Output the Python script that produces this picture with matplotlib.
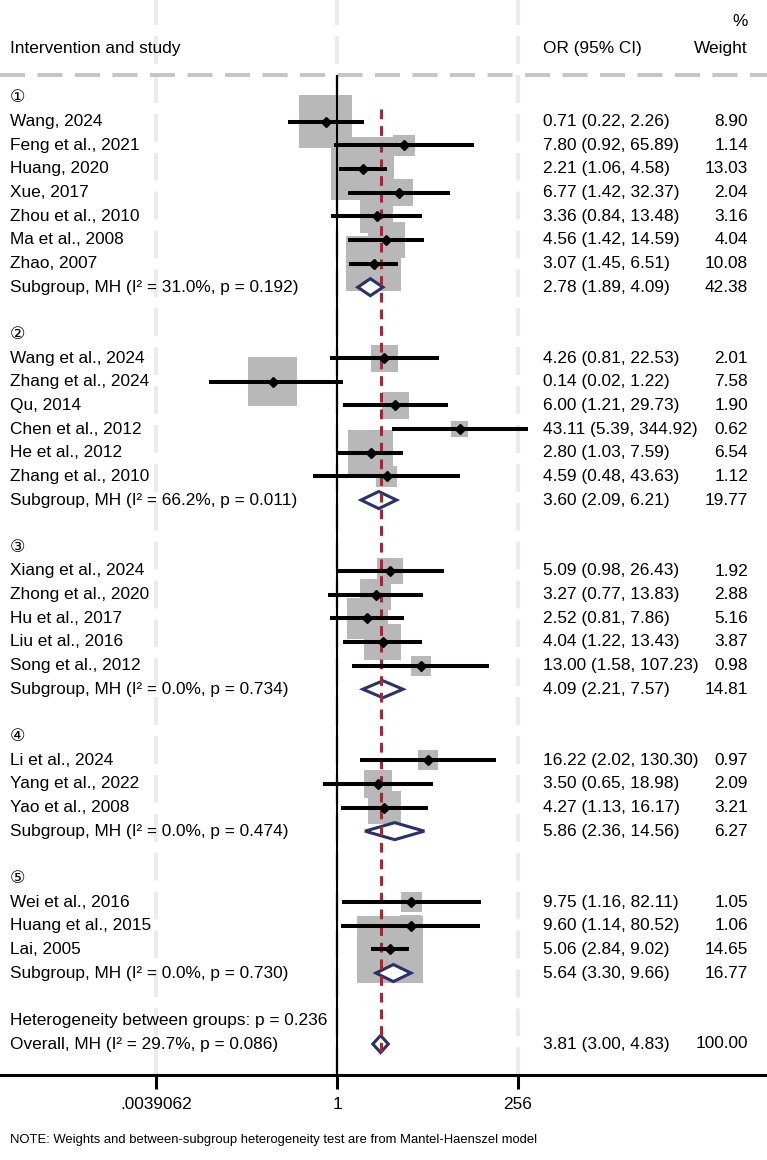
import numpy as np
import matplotlib.pyplot as plt
from matplotlib.patches import Polygon

plt.rcParams['font.family'] = ['Liberation Sans', 'DejaVu Sans']
plt.rcParams['lines.scale_dashes'] = False

# ---- data ----
group_names = ['①', '②', '③', '④', '⑤']

studies = ['Wang, 2024', 'Feng et al., 2021', 'Huang, 2020', 'Xue, 2017',
           'Zhou et al., 2010', 'Ma et al., 2008', 'Zhao, 2007',
           'Wang et al., 2024', 'Zhang et al., 2024', 'Qu, 2014',
           'Chen et al., 2012', 'He et al., 2012', 'Zhang et al., 2010',
           'Xiang et al., 2024', 'Zhong et al., 2020', 'Hu et al., 2017',
           'Liu et al., 2016', 'Song et al., 2012',
           'Li et al., 2024', 'Yang et al., 2022', 'Yao et al., 2008',
           'Wei et al., 2016', 'Huang et al., 2015', 'Lai, 2005']
study_group = [0] * 7 + [1] * 6 + [2] * 5 + [3] * 3 + [4] * 3
study_or = [0.71, 7.80, 2.21, 6.77, 3.36, 4.56, 3.07,
            4.26, 0.14, 6.00, 43.11, 2.80, 4.59,
            5.09, 3.27, 2.52, 4.04, 13.00,
            16.22, 3.50, 4.27,
            9.75, 9.60, 5.06]
study_lo = [0.22, 0.92, 1.06, 1.42, 0.84, 1.42, 1.45,
            0.81, 0.02, 1.21, 5.39, 1.03, 0.48,
            0.98, 0.77, 0.81, 1.22, 1.58,
            2.02, 0.65, 1.13,
            1.16, 1.14, 2.84]
study_hi = [2.26, 65.89, 4.58, 32.37, 13.48, 14.59, 6.51,
            22.53, 1.22, 29.73, 344.92, 7.59, 43.63,
            26.43, 13.83, 7.86, 13.43, 107.23,
            130.30, 18.98, 16.17,
            82.11, 80.52, 9.02]
study_wt = [8.90, 1.14, 13.03, 2.04, 3.16, 4.04, 10.08,
            2.01, 7.58, 1.90, 0.62, 6.54, 1.12,
            1.92, 2.88, 5.16, 3.87, 0.98,
            0.97, 2.09, 3.21,
            1.05, 1.06, 14.65]

sub_i2 = ['31.0%', '66.2%', '0.0%', '0.0%', '0.0%']
sub_p = ['0.192', '0.011', '0.734', '0.474', '0.730']
sub_or = [2.78, 3.60, 4.09, 5.86, 5.64]
sub_lo = [1.89, 2.09, 2.21, 2.36, 3.30]
sub_hi = [4.09, 6.21, 7.57, 14.56, 9.66]
sub_wt = [42.38, 19.77, 14.81, 6.27, 16.77]

het_p = '0.236'
overall_i2 = '29.7%'
overall_p = '0.086'
overall_or = 3.81
overall_lo = 3.00
overall_hi = 4.83
overall_wt = 100.00

xticks = [2.0 ** -8, 1, 256]
xtick_labels = ['.0039062', '1', '256']

# ---- row layout ----
group_rows, study_rows, sub_rows = [], [], []
r = 0
for g in range(len(group_names)):
    group_rows.append(r)
    r += 1
    for gi in study_group:
        if gi == g:
            study_rows.append(r)
            r += 1
    sub_rows.append(r)
    r += 2
het_row = r
overall_row = r + 1

W, H = 767, 1160
row_h = 23.65          # pixels per row
y0 = 98                # pixel y of first row
axis_y = 1075          # pixel y of x axis
x_one = 337            # pixel x of OR = 1
px_per_log2 = 22.6

fig = plt.figure(figsize=(W / 100, H / 100), dpi=100)
ax = fig.add_axes([0, (H - axis_y) / H, 1, axis_y / H])
ax.set_xscale('log', base=2)
ax.set_xlim(2 ** (-x_one / px_per_log2), 2 ** ((W - x_one) / px_per_log2))
ax.set_ylim((axis_y - y0) / row_h, -y0 / row_h)

fs = 12.4
tr = ax.get_yaxis_transform()
x_lab, x_or, x_wt = 10 / W, 543 / W, 748 / W

# grid lines at ticks
for t in xticks:
    ax.axvline(t, color='#ebebeb', lw=3, dashes=(20, 8), zorder=0)

# header
hdr_line = (75 - y0) / row_h
ax.axhline(hdr_line, color='#c4c4c4', lw=2.8, dashes=(18, 9), zorder=1)
ax.text(x_lab, (48 - y0) / row_h, 'Intervention and study', transform=tr,
        fontsize=fs, va='center', ha='left')
ax.text(x_or, (48 - y0) / row_h, 'OR (95% CI)', transform=tr,
        fontsize=fs, va='center', ha='left')
ax.text(x_wt, (48 - y0) / row_h, 'Weight', transform=tr,
        fontsize=fs, va='center', ha='right')
ax.text(x_wt, (22 - y0) / row_h, '%', transform=tr,
        fontsize=fs, va='center', ha='right')

# reference line at 1
ax.plot([1, 1], [hdr_line, (axis_y - y0) / row_h], color='black', lw=1.5,
        zorder=3, solid_capstyle='butt')

# squares (side grows with sqrt of weight)
side_px = 16.35 * np.sqrt(np.array(study_wt)) + 3.9
ax.scatter(study_or, study_rows, s=(side_px * 0.72) ** 2, marker='s',
           color='#b8b8b8', linewidths=0, zorder=2)

# overall line
ax.plot([overall_or, overall_or], [0.45, overall_row + 0.45],
        color='#9e2a36', lw=2.2, dashes=(7, 5), zorder=4)

# CI lines and points
ax.hlines(study_rows, study_lo, study_hi, color='black', lw=2.9, zorder=5)
ax.plot(study_or, study_rows, 'D', color='black', ms=5.2, zorder=6)


def diamond(est, lo, hi, row):
    h = 0.36
    pts = [(lo, row), (est, row - h), (hi, row), (est, row + h)]
    ax.add_patch(Polygon(pts, closed=True, facecolor='white',
                         edgecolor='#28306e', lw=2.2, zorder=3.5,
                         joinstyle='miter'))


for g, row in enumerate(group_rows):
    ax.text(x_lab, row, group_names[g], transform=tr, fontsize=fs,
            va='center', ha='left')

for i, row in enumerate(study_rows):
    ax.text(x_lab, row, studies[i], transform=tr, fontsize=fs,
            va='center', ha='left')
    ax.text(x_or, row, f'{study_or[i]:.2f} ({study_lo[i]:.2f}, {study_hi[i]:.2f})',
            transform=tr, fontsize=fs, va='center', ha='left')
    ax.text(x_wt, row, f'{study_wt[i]:.2f}', transform=tr, fontsize=fs,
            va='center', ha='right')

for g, row in enumerate(sub_rows):
    diamond(sub_or[g], sub_lo[g], sub_hi[g], row)
    ax.text(x_lab, row, f'Subgroup, MH (I² = {sub_i2[g]}, p = {sub_p[g]})',
            transform=tr, fontsize=fs, va='center', ha='left')
    ax.text(x_or, row, f'{sub_or[g]:.2f} ({sub_lo[g]:.2f}, {sub_hi[g]:.2f})',
            transform=tr, fontsize=fs, va='center', ha='left')
    ax.text(x_wt, row, f'{sub_wt[g]:.2f}', transform=tr, fontsize=fs,
            va='center', ha='right')

ax.text(x_lab, het_row, f'Heterogeneity between groups: p = {het_p}',
        transform=tr, fontsize=fs, va='center', ha='left')
diamond(overall_or, overall_lo, overall_hi, overall_row)
ax.text(x_lab, overall_row, f'Overall, MH (I² = {overall_i2}, p = {overall_p})',
        transform=tr, fontsize=fs, va='center', ha='left')
ax.text(x_or, overall_row, f'{overall_or:.2f} ({overall_lo:.2f}, {overall_hi:.2f})',
        transform=tr, fontsize=fs, va='center', ha='left')
ax.text(x_wt, overall_row, f'{overall_wt:.2f}', transform=tr, fontsize=fs,
        va='center', ha='right')

# axis
for s in ['top', 'left', 'right']:
    ax.spines[s].set_visible(False)
ax.spines['bottom'].set_linewidth(2.2)
ax.set_yticks([])
ax.set_xticks(xticks)
ax.set_xticklabels(xtick_labels, fontsize=fs)
ax.minorticks_off()
ax.tick_params(axis='x', length=10, width=2.2, pad=6)
ax.patch.set_alpha(0)

fig.text(10 / W, 1 - 1140 / H,
         'NOTE: Weights and between-subgroup heterogeneity test are from Mantel-Haenszel model',
         fontsize=9.4, va='center', ha='left')

fig.savefig('out.png', dpi=100)
